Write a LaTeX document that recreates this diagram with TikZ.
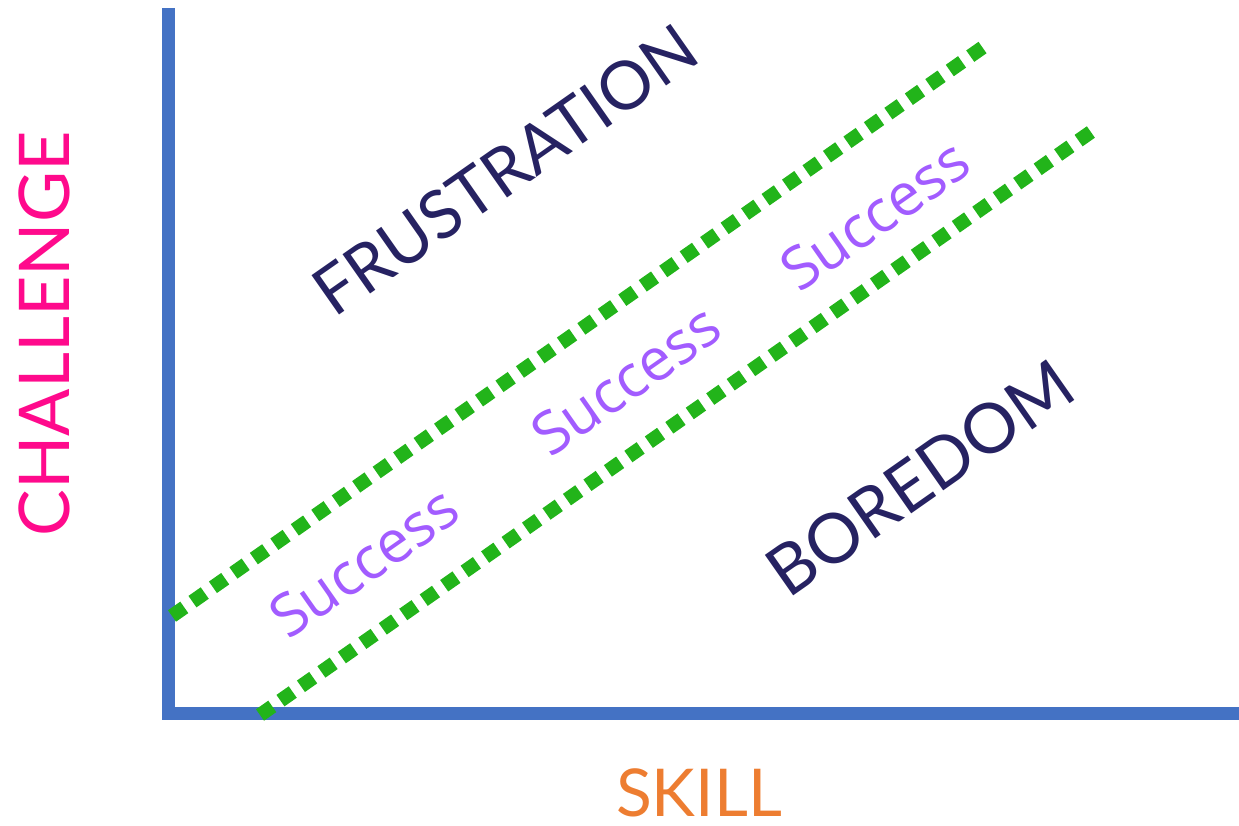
\documentclass[tikz,border=0pt]{standalone}
\usepackage{fontspec}
\setmainfont{Lato}
\newfontfamily\successfont{Open Sans}
\definecolor{axisblue}{RGB}{68,114,196}
\definecolor{zonegreen}{RGB}{34,180,26}
\definecolor{succpurple}{RGB}{162,92,255}
\definecolor{labelnavy}{RGB}{38,34,98}
\definecolor{challpink}{RGB}{255,10,140}
\definecolor{skillorange}{RGB}{237,125,49}
\begin{document}
\begin{tikzpicture}[x=1pt,y=-1pt,
  axisline/.style={draw=axisblue,line width=13pt,line join=miter},
  zoneline/.style={draw=zonegreen,line width=14pt,line cap=butt,dash pattern=on 15pt off 10pt},
  zonelabel/.style={text=labelnavy,rotate=35,inner sep=0pt},
  succlabel/.style={text=succpurple,font=\successfont\fontsize{59}{59}\selectfont,rotate=35,inner sep=0pt},
]
\useasboundingbox (0,0) rectangle (1239,826);
% axes
\coordinate (ytop) at (168.5,8);
\coordinate (origin) at (168.5,713.5);
\coordinate (xend) at (1239,713.5);
\draw[axisline] (ytop) -- (origin) -- (xend);
% band of success between the two dotted lines
\coordinate (upA) at (172,616);
\coordinate (upB) at (989,43);
\coordinate (loA) at (260,715);
\coordinate (loB) at (1098,127);
\draw[zoneline] (upA) -- (upB);
\draw[zoneline] (loA) -- (loB);
% region labels
\node[zonelabel,font=\fontsize{67}{67}\selectfont] (frus) at (505,170) {FRUSTRATION};
\node[zonelabel,font=\fontsize{69}{69}\selectfont] (bore) at (920,478) {BOREDOM};
\node[succlabel] (s1) at (364,562) {Success};
\node[succlabel] (s2) at (626,380) {Success};
\node[succlabel] (s3) at (875,215) {Success};
% axis titles
\node[text=challpink,font=\fontsize{70}{70}\selectfont,rotate=90,inner sep=0pt] (chall) at (44,334) {CHALLENGE};
\node[text=skillorange,font=\fontsize{66}{66}\selectfont,inner sep=0pt] (skill) at (699,793) {SKILL};
\end{tikzpicture}
\end{document}
